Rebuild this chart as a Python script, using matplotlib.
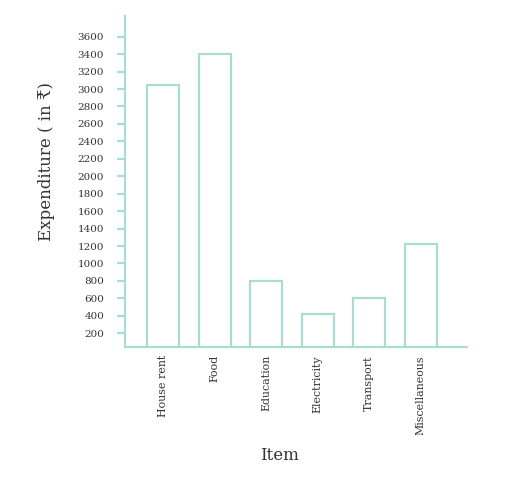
import matplotlib
matplotlib.use('Agg')
import matplotlib.pyplot as plt
import numpy as np

# data
items = ["House rent", "Food", "Education", "Electricity", "Transport", "Miscellaneous"]
expenditure = [3050, 3400, 800, 420, 600, 1220]
y_ticks = list(range(200, 3601, 200))

EDGE = '#acdcd1'
TEXT = '#333333'
plt.rcParams['font.family'] = ['DejaVu Serif', 'DejaVu Sans']

fig = plt.figure(figsize=(5.08, 4.86), dpi=100)
ax = fig.add_axes([0.246, 0.2866, 0.6727, 0.6804])

x = np.arange(len(items))
ax.bar(x, expenditure, width=0.62, bottom=0, facecolor='none',
       edgecolor=EDGE, linewidth=1.6)

ax.set_xlim(-0.74, 5.89)
ax.set_ylim(46, 3837)

for side in ['top', 'right']:
    ax.spines[side].set_visible(False)
for side in ['left', 'bottom']:
    ax.spines[side].set_color(EDGE)
    ax.spines[side].set_linewidth(1.6)

ax.set_yticks(y_ticks)
ax.set_yticklabels([str(v) for v in y_ticks], fontsize=7.5, color=TEXT)
ax.tick_params(axis='y', length=6, width=1.6, color=EDGE, pad=9)

ax.set_xticks(x)
ax.set_xticklabels(items, rotation=90, fontsize=7.9, color=TEXT, va='top')
ax.tick_params(axis='x', length=0, pad=6)

ax.set_ylabel("Expenditure ( in ₹)", fontsize=12, color=TEXT, va='center')
ax.yaxis.set_label_coords(-0.229, 0.5615)
ax.set_xlabel("Item", fontsize=12, color=TEXT, va='center')
ax.xaxis.set_label_coords(0.4536, -0.3275)

fig.savefig("out.png", dpi=100)
plt.close('all')
